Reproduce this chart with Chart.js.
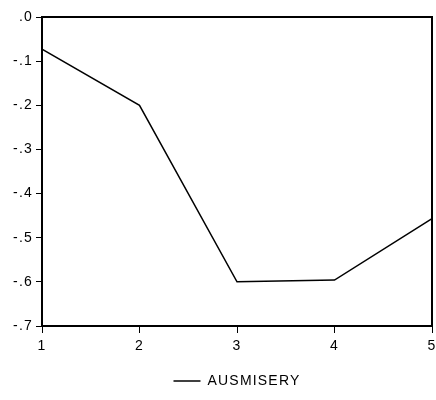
<!DOCTYPE html>
<html>
<head>
<meta charset="utf-8">
<script src="https://cdn.jsdelivr.net/npm/chart.js@4"></script>
<style>
  html, body { margin: 0; padding: 0; background: #fff; }
  #wrap { width: 436px; height: 400px; }
</style>
</head>
<body>
<div id="wrap"><canvas id="chart" width="436" height="400"></canvas></div>
<script>
// datos
const periods = [1, 2, 3, 4, 5];
const ausmisery = [-0.073, -0.200, -0.600, -0.596, -0.457];
const yTicks = [0, -0.1, -0.2, -0.3, -0.4, -0.5, -0.6, -0.7];

const fmt = v => {
    const r = Math.round(v * 10) / 10;
    if (r === 0) return '.0';
    return r.toFixed(1).replace('0.', '.');
};

// marco negro, espaciado de letras y leyenda centrada sobre el área
const frame = {
    id: 'frame',
    beforeUpdate(chart) { chart.ctx.letterSpacing = '1.2px'; },
    beforeDraw(chart) { chart.ctx.letterSpacing = '1.2px'; },
    afterLayout(chart) {
        if (chart.legend) {
            chart.legend.left = chart.chartArea.left;
            chart.legend.right = chart.chartArea.right;
        }
    },
    afterDraw(chart) {
        const { ctx, chartArea: a } = chart;
        ctx.save();
        ctx.strokeStyle = '#000';
        ctx.lineWidth = 2;
        ctx.strokeRect(a.left, a.top, a.right - a.left, a.bottom - a.top);
        ctx.restore();
    }
};

Chart.defaults.font.family = '"Liberation Sans", Arial, sans-serif';
Chart.defaults.color = '#000';

new Chart(document.getElementById('chart'), {
    type: 'line',
    data: {
        datasets: [{
            label: 'AUSMISERY',
            data: periods.map((p, i) => ({ x: p, y: ausmisery[i] })),
            borderColor: '#000',
            borderWidth: 1.5,
            pointRadius: 0,
            fill: false,
            tension: 0
        }]
    },
    options: {
        responsive: false,
        animation: false,
        layout: { padding: { top: 17, right: 4, left: 0, bottom: 2 } },
        scales: {
            x: {
                type: 'linear',
                min: 1, max: 5,
                afterBuildTicks: s => { s.ticks = periods.map(v => ({ value: v })); },
                ticks: { font: { size: 14 }, padding: 5, callback: v => String(v) },
                grid: { drawOnChartArea: false, drawTicks: true, tickLength: 7, color: '#000', lineWidth: 1 },
                border: { display: false },
                afterFit: s => { s.height = 38; s.paddingLeft = 0; s.paddingRight = 0; }
            },
            y: {
                min: -0.7, max: 0,
                afterBuildTicks: s => { s.ticks = yTicks.map(v => ({ value: v })); },
                ticks: { font: { size: 14 }, padding: 3, callback: v => fmt(v) },
                grid: { drawOnChartArea: false, drawTicks: true, tickLength: 6, color: '#000', lineWidth: 1 },
                border: { display: false },
                afterFit: s => { s.width = 42; s.paddingTop = 0; s.paddingBottom = 0; }
            }
        },
        plugins: {
            legend: {
                position: 'bottom',
                labels: {
                    usePointStyle: true,
                    pointStyle: 'line',
                    pointStyleWidth: 27,
                    font: { size: 14 },
                    padding: 10
                }
            },
            tooltip: { enabled: false }
        }
    },
    plugins: [frame]
});
</script>
</body>
</html>
